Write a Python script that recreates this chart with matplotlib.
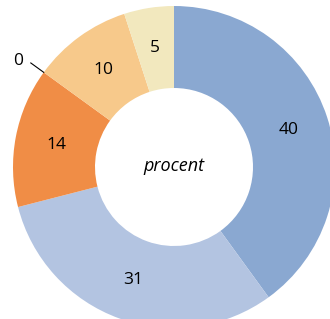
import numpy as np
import matplotlib
matplotlib.use("Agg")
import matplotlib.pyplot as plt

values = [40, 31, 14, 0, 10, 5]
labels = ["40", "31", "14", "0", "10", "5"]
colors = ["#8aa8d1", "#b3c4e1", "#f08d46", "#f08d46", "#f7c98b", "#f2e8be"]
center_text = "procent"

plt.rcParams['font.family'] = ['Open Sans', 'DejaVu Sans']

fig = plt.figure(figsize=(3.30, 3.19), dpi=100)
ax = fig.add_axes([0, 0, 1, 1])

cx, cy = 174, 152
r_out, r_in = 161, 79

wedges, _ = ax.pie(values, colors=colors, startangle=90, counterclock=False,
                   radius=r_out, center=(cx, cy),
                   wedgeprops=dict(width=r_out - r_in, linewidth=0))

r_lab = (r_out + r_in) / 2
for w, lab, v in zip(wedges, labels, values):
    mid = np.deg2rad((w.theta1 + w.theta2) / 2)
    if v == 0:
        ax.plot([cx + r_out * np.cos(mid), cx + 177 * np.cos(mid)],
                [cy + r_out * np.sin(mid), cy + 177 * np.sin(mid)],
                color='black', lw=0.8)
        ax.text(cx + 189 * np.cos(mid + 0.03), cy + 189 * np.sin(mid + 0.03), lab,
                ha='center', va='center', fontsize=12.5)
    else:
        ax.text(cx + r_lab * np.cos(mid), cy + r_lab * np.sin(mid), lab,
                ha='center', va='center', fontsize=12.5)

ax.text(cx, cy + 1, center_text, ha='center', va='center', fontsize=13,
        style='italic')

ax.set_xlim(0, 330)
ax.set_ylim(0, 319)
ax.set_aspect('auto')
ax.axis('off')

fig.savefig("out.png", dpi=100)
